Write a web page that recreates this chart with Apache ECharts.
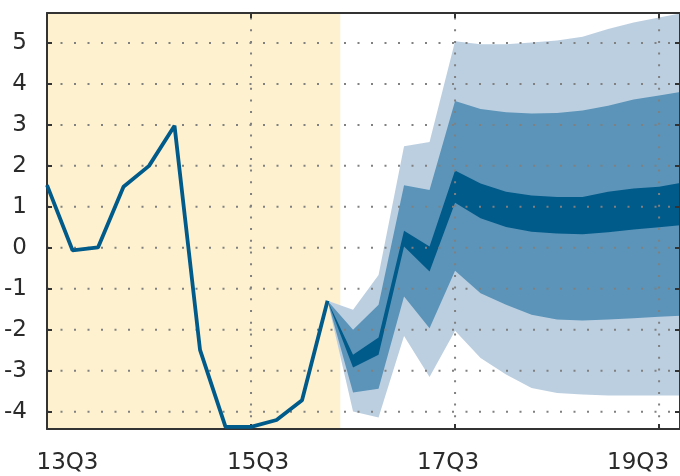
<!DOCTYPE html>
<html><head><meta charset="utf-8">
<script src="https://cdn.jsdelivr.net/npm/echarts@6/dist/echarts.min.js"></script>
<style>html,body{margin:0;padding:0;background:#fff}#c{width:680px;height:476px}</style>
</head><body><div id="c"></div>
<script>
// Quarter names; x positions are their indices
const quarters = ['13Q3','13Q4','14Q1','14Q2','14Q3','14Q4','15Q1','15Q2','15Q3','15Q4','16Q1','16Q2',
                  '16Q3','16Q4','17Q1','17Q2','17Q3','17Q4','18Q1','18Q2','18Q3','18Q4','19Q1','19Q2','19Q3','19Q4'];
const xTickIdx = [0, 8, 16, 24];
const xGridIdx = [8, 16, 24];
const yTicks = [-4, -3, -2, -1, 0, 1, 2, 3, 4, 5];
const X_MIN = 0, X_MAX = 24.82, Y_MIN = -4.42, Y_MAX = 5.73;

// Historical outturns 13Q3 .. 16Q2
const histValues = [1.53, -0.06, 0.01, 1.49, 2.0, 2.98, -2.49, -4.37, -4.37, -4.2, -3.72, -1.29];

// Shaded history region end (between 16Q2 and 16Q3)
const shadeEnd = 11.5;

// Fan chart bounds 16Q2 .. 19Q4
const fanStart = 11;
const outerLow  = [-1.29, -3.99, -4.14, -2.15, -3.15, -2.02, -2.69, -3.09, -3.42, -3.54, -3.58, -3.60, -3.60, -3.60, -3.60];
const midLow    = [-1.29, -3.53, -3.44, -1.19, -1.96, -0.56, -1.11, -1.39, -1.63, -1.75, -1.77, -1.75, -1.72, -1.68, -1.65];
const innerLow  = [-1.29, -2.92, -2.61,  0.03, -0.58,  1.10,  0.72,  0.51,  0.39,  0.35,  0.33,  0.38,  0.45,  0.50,  0.56];
const innerHigh = [-1.29, -2.61, -2.19,  0.42,  0.03,  1.89,  1.57,  1.37,  1.28,  1.24,  1.24,  1.37,  1.45,  1.49,  1.60];
const midHigh   = [-1.29, -2.00, -1.39,  1.53,  1.41,  3.58,  3.39,  3.31,  3.28,  3.29,  3.35,  3.47,  3.62,  3.72,  3.82];
const outerHigh = [-1.29, -1.51, -0.66,  2.48,  2.58,  5.04,  4.97,  4.97,  5.01,  5.06,  5.15,  5.34,  5.50,  5.62,  5.74];

const FONT = 'DejaVu Sans';
const TXT = '#2b2b2b';
const AX = '#333';
const GRIDC = '#808080';
const LIGHT = '#bccfe1', MID = '#5b94b8', DARK = '#005a8a';

const fanX = outerLow.map((_, i) => fanStart + i);
function bandSeries(lo, hi, color) {
  const rows = fanX.map((x, i) => [x, lo[i], hi[i]]);
  return {
    type: 'custom', silent: true, z: 1, clip: true,
    data: rows,
    encode: { x: 0, y: [1, 2] },
    renderItem: (params, api) => {
      if (params.dataIndex !== 0) return null;
      const pts = [];
      for (let i = 0; i < rows.length; i++) pts.push(api.coord([rows[i][0], rows[i][2]]));
      for (let i = rows.length - 1; i >= 0; i--) pts.push(api.coord([rows[i][0], rows[i][1]]));
      return { type: 'polygon', shape: { points: pts }, style: { fill: color } };
    }
  };
}

// dotted grid: [x1, y1, x2, y2, isVertical]
const gridRows = yTicks.map(v => [X_MIN, v, X_MAX, v, 0])
  .concat(xGridIdx.map(v => [v, Y_MIN, v, Y_MAX, 1]));

const labelShift = { '13Q3': 'a', '15Q3': 'b', '17Q3': 'c', '19Q3': 'd' };
const richBase = { fontFamily: FONT, fontSize: 23, color: TXT };

const chart = echarts.init(document.getElementById('c'), null, { renderer: 'canvas' });
chart.setOption({
  animation: false,
  backgroundColor: '#fff',
  grid: { left: 47, right: 0, top: 13, bottom: 47, containLabel: false },
  xAxis: [{
    type: 'value', position: 'bottom', min: X_MIN, max: X_MAX, z: 6,
    axisLine: { show: true, onZero: false, lineStyle: { color: AX, width: 2 } },
    axisTick: { show: true, inside: true, length: 5, customValues: xTickIdx, lineStyle: { color: AX, width: 2 } },
    axisLabel: {
      customValues: xTickIdx, margin: 23,
      formatter: v => { const q = quarters[Math.round(v)]; return '{' + labelShift[q] + '|' + q + '}'; },
      rich: {
        a: Object.assign({ padding: [0, 0, 0, 41] }, richBase),
        b: Object.assign({ padding: [0, 0, 0, 14] }, richBase),
        c: Object.assign({ padding: [0, 14, 0, 0] }, richBase),
        d: Object.assign({ padding: [0, 42, 0, 0] }, richBase)
      }
    },
    splitLine: { show: false }
  }, {
    type: 'value', position: 'top', min: X_MIN, max: X_MAX, z: 6,
    axisLine: { show: true, onZero: false, lineStyle: { color: AX, width: 2 } },
    axisTick: { show: true, inside: true, length: 5, customValues: xTickIdx, lineStyle: { color: AX, width: 2 } },
    axisLabel: { show: false },
    splitLine: { show: false }
  }],
  yAxis: [{
    type: 'value', position: 'left', min: Y_MIN, max: Y_MAX, z: 6,
    axisLine: { show: true, onZero: false, lineStyle: { color: AX, width: 2 } },
    axisTick: { show: true, inside: true, length: 5, customValues: yTicks, lineStyle: { color: AX, width: 2 } },
    axisLabel: { customValues: yTicks, margin: 20, fontFamily: FONT, fontSize: 23, color: TXT, padding: [0, 0, 6, 0] },
    splitLine: { show: false }
  }, {
    type: 'value', position: 'right', min: Y_MIN, max: Y_MAX, z: 6,
    axisLine: { show: true, onZero: false, lineStyle: { color: AX, width: 2 } },
    axisTick: { show: true, inside: true, length: 5, customValues: yTicks, lineStyle: { color: AX, width: 2 } },
    axisLabel: { show: false },
    splitLine: { show: false }
  }],
  series: [
    bandSeries(outerLow, outerHigh, LIGHT),
    bandSeries(midLow, midHigh, MID),
    bandSeries(innerLow, innerHigh, DARK),
    {
      type: 'custom', silent: true, z: 5, clip: false,
      data: gridRows,
      encode: { x: [0, 2], y: [1, 3] },
      renderItem: (params, api) => {
        const p1 = api.coord([api.value(0), api.value(1)]);
        const p2 = api.coord([api.value(2), api.value(3)]);
        const vertical = api.value(4) === 1;
        return {
          type: 'line',
          shape: { x1: p1[0], y1: p1[1], x2: p2[0], y2: p2[1] },
          style: { stroke: GRIDC, lineWidth: 2, lineDash: vertical ? [2, 9.7] : [2, 11.5], fill: null }
        };
      }
    },
    {
      type: 'line', symbol: 'none', z: 10,
      lineStyle: { color: DARK, width: 3.8 },
      data: histValues.map((v, i) => [i, v]),
      markArea: {
        silent: true, z: 0,
        itemStyle: { color: '#fdf1cf' },
        data: [[{ xAxis: 0 }, { xAxis: shadeEnd }]]
      }
    }
  ]
});
</script>
</body></html>
